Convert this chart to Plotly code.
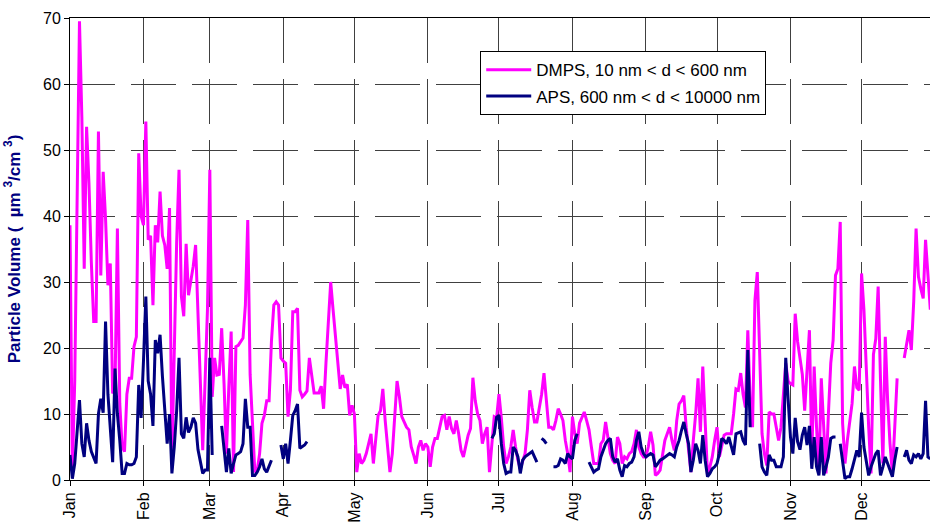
import pandas as pd
import plotly.graph_objects as go

YEAR = 2001
month_names = ["Jan", "Feb", "Mar", "Apr", "May", "Jun",
               "Jul", "Aug", "Sep", "Oct", "Nov", "Dec"]

# Daily particle volume (um3/cm3), None = no measurement
dmps_jan = [38.6, 1.5, 15, 45, 69.5, 55, 32, 53.5, 45, 33, 24, 24, 52.8, 31, 46.7, 39.6,
            29.5, 32.8, 13.1, 14, 38.1, 11.6, 5, 4.3, 13, 15.4, 15.4, 20.2, 21.7, 49.5, 40]
dmps_feb = [38.6, 54.3, 36.4, 37, 26.5, 38.6, 36, 43.7, 37, 35.6, 32, 41.2, 3, 22, 36, 47,
            27.8, 24.8, 35.8, 28, 30, 32.4, 35.6, 25.8, 15, 4.5, 15, 25.8]
dmps_mar = [47, 12.6, 18.5, 15.9, 16, 23, 14.6, 4, 14, 22.5, 1.2, 20.2, 20.4, 21, 21.5, 26.5,
            39.4, 16, 8, 1.2, 1.5, 4, 8.6, 9.8, 12, 12, 21, 26.5, 27, 26.5, 18.5]
dmps_apr = [18, 17.7, 9.6, 13.6, 25.5, 25.5, 26, 13.6, 12.6, 13, 13.5, 18.5, 15.5, 13.2, 13.2,
            13.2, 14.2, 10.8, 17.7, 24, 30, 25.8, 22, 18.5, 13.8, 15.9, 14, 14.5, 9.8, 11.3]
dmps_may = [10, 1.2, 4, 2.5, 3, 4, 5.5, 7, 2.5, 6, 9.8, 10.5, 13.8, 9, 5, 1.2, 4, 10, 15, 12.6,
            9.6, 8.8, 8, 7.6, 5, 3.8, 2.5, 5, 6, 4.5, 5.5]
dmps_jun = [5, 2, 5, 6.3, 6.3, 8, 9.6, 9.8, 7.6, 9.6, 7.8, 7, 9, 7, 4.5, 3.5, 5, 6.8, 7.8,
            15.5, 12, 10, 9, 5.5, 7, 8, 1.2, 5, 9.6, 9.4]
dmps_jul = [13, 9.4, 5, 2.5, 3.5, 5, 7.6, 5, 3, 1.7, 3, 4, 7.6, 13.6, 11, 8.8, 8.8, 11, 13,
            16.2, 12, 8, 8, 7.6, 9, 10.8, 10, 9, 6, 4, 1.2]
dmps_aug = [9.6, 7, 5.5, 8.6, 9.5, 10.3, 9, 7.6, 5, 2.5, 2.5, 2.5, 5.5, 6, 8.8, 6, 4, 3, 2.5,
            6.5, 5.5, 2.5, 3.5, 3.2, 4, 4.3, 5.5, 7.6, 5, 4, 3.5]
dmps_sep = [3.5, 5, 7.3, 5.3, 0.7, 1, 1.5, 4, 6, 7, 8, 6, 4.5, 9, 11.5, 12, 12.8, 8, 4, 1.2,
            6, 10, 15.4, 7.3, 17.2, 8, 0.7, 2, 3.5, 6]
dmps_oct = [8, 3.5, 5, 6.8, 7, 7, 7, 10, 13.8, 13.6, 16.2, 13, 11, 22.7, 12, 8, 27.2, 31.5,
            18, 7, 4, 2.2, 10.3, 10, 10, 8, 6, 8, 13, 17.7, 15]
dmps_nov = [14.6, 14.4, 25.2, 21, 18.2, 16, 10.5, 16, 22.7, 3.5, 17.2, 8, 1, 15.4, 8, 1, 10,
            17.7, 21.2, 31, 32, 39.1, 8.6, 2.5, 6, 9, 11.6, 17.2, 14, 13.6]
dmps_dec = [31.3, 25.8, 15.5, 8, 1, 19, 21.4, 29.3, 15, 2.5, 21.7, 12, 5.5, 1, 8, 15.4, None,
            None, 18.5, 20.9, 22.7, 19.7, 27, 38.1, 30.8, 29, 27.5, 36.4, 31, 25.8, None]

aps_jan = [3.8, 0.2, 2.5, 8, 12.1, 5.5, 3.5, 8.6, 6, 4.3, 3.5, 2.5, 10, 12.3, 10.2, 24, 13, 7,
           2.7, 16.9, 10, 6, 1, 1, 2.5, 2.3, 2.3, 2.5, 3.5, 14.4, 9.4]
aps_feb = [18, 27.8, 15, 13, 8.2, 21.2, 19.2, 22, 15.7, 10, 5.5, 10, 1, 5, 10.5, 18.5, 7, 6.3,
           9.5, 7.2, 8, 9.4, 8.6, 4.6, 3, 1, 1.5, 1.5]
aps_mar = [18.5, 3.8, None, None, None, 8.2, 4.2, 1.2, 4.8, 1, 2.5, 3.8, 4, 4.3, 5.5, 12.3, 8,
           8, 0.7, 0.7, 1.2, 2, 3.2, 1.7, 1.2, 2, 3, None, None, None, 5.3]
aps_apr = [3.2, 5.5, 2.5, 6, 9.8, 10.5, 11.5, 4.8, 5, 5.3, 5.8] + [None] * 19
aps_may = [None] * 31
aps_jun = [None] * 27 + [6.3, 7, 9.5]
aps_jul = [9.8, 5.5, 2.5, 1, 1.2, 1.2, 5, 4.5, 3.5, 1, 3, 3.5, 3.8, 4, 4.3, 3.5, 2.7, None,
           6.3, 6, 5.5, None, None, 2, 2, 2.2, 3.2, 3, 2.5, 4, 3.5]
aps_aug = [3.2, 6, 7, None, None, None, None, 2.7, 2, 1.2, 1.5, 1.7, 3.5, 4.5, 5.5, 6, 6.3,
           3.5, 2.7, 3.2, 1.5, 0.5, 2.2, 2, 2.5, 2.7, 3.5, 6, 7.3, 5, 4]
aps_sep = [3.5, 3.8, 4, 3.8, 2, 2.5, 3, 3.2, 3.5, 3.8, 4, 3.8, 3.5, 5, 6, 7.5, 8.8, 7, 5.5,
           1.2, 3, 5.5, 4.5, 2.5, 6.8, 3, 0.5, 1, 1.7, 2]
aps_oct = [2.5, 4, 6.3, 6, 5.5, 6.5, 5, 3.8, 7, 7.2, 7.3, 6, 5.3, 19.7, 8, None, None, None,
           5.5, 2, 1.2, 0.7, 3.8, 3, 3, 2, 2, 2, 3.5, 18.5, 12.3]
aps_nov = [6.5, 4, 9.4, 5.8, 4.6, 6.8, 8, 5.3, 8.2, 1.7, 6.5, 2, 0.7, 6.5, 0.7, 2, 3.5, 6.3,
           6.5, 6.5, None, 5.5, 2.5, 0.2, 0.5, 0.5, 1.7, 3, 4.5, 3.5]
aps_dec = [10.2, 5, 3, 0.7, 2, 3, 4, 4.5, 0.7, 2, 3.5, 2.5, 1.5, 0.5, 3, 5, None, None, 3.5,
           4.5, 3, 2.5, 3.8, 3.5, 4, 3.2, 4, 12, 3.5, 3.2, None]

dmps_parts = [dmps_jan, dmps_feb, dmps_mar, dmps_apr, dmps_may, dmps_jun,
              dmps_jul, dmps_aug, dmps_sep, dmps_oct, dmps_nov, dmps_dec]
aps_parts = [aps_jan, aps_feb, aps_mar, aps_apr, aps_may, aps_jun,
             aps_jul, aps_aug, aps_sep, aps_oct, aps_nov, aps_dec]


def join_months(parts):
    x, y = [], []
    for i, vals in enumerate(parts):
        days = pd.date_range(f"{YEAR}-{i + 1:02d}-01", periods=len(vals), freq="D")
        x.extend(days.strftime("%Y-%m-%d"))
        y.extend(vals)
    return x, y


dmps_x, dmps_y = join_months(dmps_parts)
aps_x, aps_y = join_months(aps_parts)
month_starts = [f"{YEAR}-{m:02d}-01" for m in range(1, 13)]

fig = go.Figure()
fig.add_trace(go.Scatter(
    x=dmps_x, y=dmps_y, mode="lines", name="DMPS, 10 nm < d < 600 nm",
    line=dict(color="#FF00FF", width=3), legendgroup="dmps",
))
fig.add_trace(go.Scatter(
    x=aps_x, y=aps_y, mode="lines", name="APS, 600 nm < d < 10000 nm",
    line=dict(color="#000080", width=3), legendgroup="aps",
))

# dashed grid like the old spreadsheet chart
grid = dict(showgrid=True, gridcolor="#404040", gridwidth=1, griddash="45px,16px")

fig.update_layout(
    width=930, height=527,
    margin=dict(l=70, r=0, t=18, b=47),
    plot_bgcolor="white", paper_bgcolor="white",
    font=dict(family="Liberation Sans, Arial", size=16, color="black"),
    showlegend=True,
    legend=dict(
        x=0.477, y=0.928, xanchor="left", yanchor="top",
        bgcolor="white", bordercolor="black", borderwidth=1,
        traceorder="grouped", tracegroupgap=1, itemwidth=45,
        font=dict(size=17, color="black"),
    ),
    xaxis=dict(
        type="date",
        range=[f"{YEAR}-01-01", f"{YEAR}-12-29 21:00"],
        tickvals=month_starts, ticktext=month_names, tickangle=-90,
        ticks="outside", ticklen=5, tickcolor="black",
        showline=True, linecolor="black", linewidth=1, mirror=True,
        zeroline=False, automargin=False,
        **grid,
    ),
    yaxis=dict(
        range=[0, 70], dtick=10,
        ticks="outside", ticklen=5, tickcolor="black",
        showline=True, linecolor="black", linewidth=1, mirror=True,
        zeroline=False, automargin=False,
        title=dict(
            text="<b>Particle Volume (  \u00b5m <sup>3</sup>/cm <sup>3</sup>)</b>",
            font=dict(size=17, color="#000080", family="Liberation Sans, Arial"),
            standoff=18,
        ),
        **grid,
    ),
)

# page body margin would shift the chart inside the window
fig.write_html(
    "out.html",
    config={"displayModeBar": False},
    post_script="document.body.style.margin='0';",
)
